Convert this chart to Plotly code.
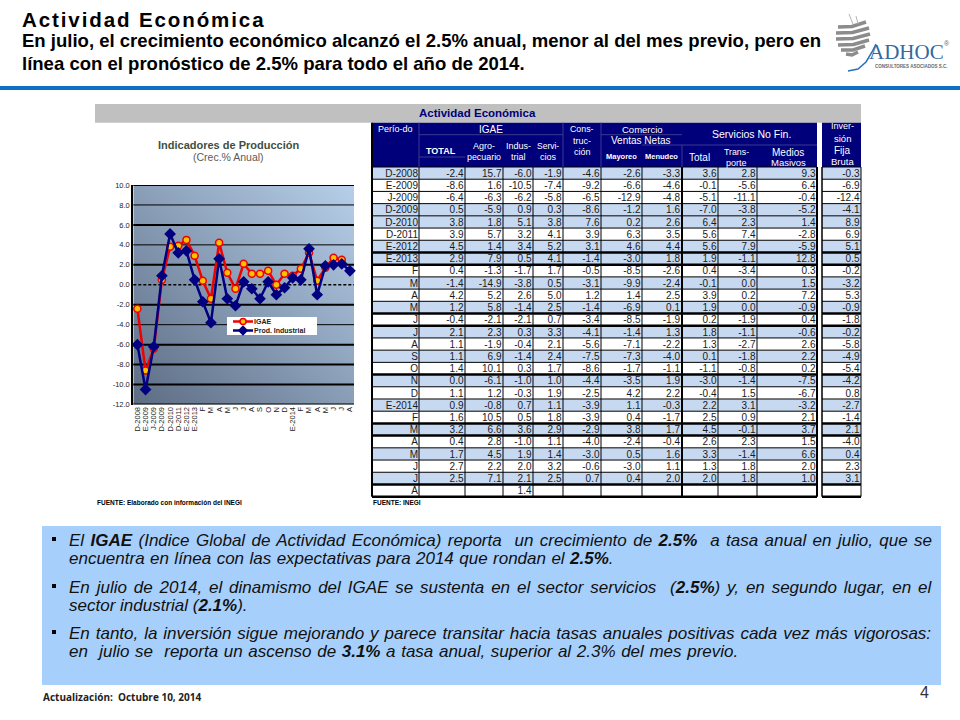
import base64, json
import plotly.graph_objects as go

# ---------- data ----------
PERIODS = ["D-2008","E-2009","J-2009","D-2009","D-2010","D-2011","E-2012","E-2013","F","M","A","M","J","J","A","S","O","N","D","E-2014","F","M","A","M","J","J","A"]
IGAE_TOTAL = [-2.4,-8.6,-6.4,0.5,3.8,3.9,4.5,2.9,0.4,-1.4,4.2,1.2,-0.4,2.1,1.1,1.1,1.4,0.0,1.1,0.9,1.6,3.2,0.4,1.7,2.7,2.5,None]
AGRO = [15.7,1.6,-6.3,-5.9,1.8,5.7,1.4,7.9,-1.3,-14.9,5.2,5.8,-2.1,2.3,-1.9,6.9,10.1,-6.1,1.2,-0.8,10.5,6.6,2.8,4.5,2.2,7.1,None]
INDUS = [-6.0,-10.5,-6.2,0.9,5.1,3.2,3.4,0.5,-1.7,-3.8,2.6,-1.4,-2.1,0.3,-0.4,-1.4,0.3,-1.0,-0.3,0.7,0.5,3.6,-1.0,1.9,2.0,2.1,1.4]
SERV = [-1.9,-7.4,-5.8,0.3,3.8,4.1,5.2,4.1,1.7,0.5,5.0,2.5,0.7,3.3,2.1,2.4,1.7,1.0,1.9,1.1,1.8,2.9,1.1,1.4,3.2,2.5,None]
CONSTR = [-4.6,-9.2,-6.5,-8.6,7.6,3.9,3.1,-1.4,-0.5,-3.1,1.2,-1.4,-3.4,-4.1,-5.6,-7.5,-8.6,-4.4,-2.5,-3.9,-3.9,-2.9,-4.0,-3.0,-0.6,0.7,None]
MAYOREO = [-2.6,-6.6,-12.9,-1.2,0.2,6.3,4.6,-3.0,-8.5,-9.9,1.4,-6.9,-8.5,-1.4,-7.1,-7.3,-1.7,-3.5,4.2,1.1,0.4,3.8,-2.4,0.5,-3.0,0.4,None]
MENUDEO = [-3.3,-4.6,-4.8,1.6,2.6,3.5,4.4,1.8,-2.6,-2.4,2.5,0.1,-1.9,1.3,-2.2,-4.0,-1.1,1.9,2.2,-0.3,-1.7,1.7,-0.4,1.6,1.1,2.0,None]
SVC_TOTAL = [3.6,-0.1,-5.1,-7.0,6.4,5.6,5.6,1.9,0.4,-0.1,3.9,1.9,0.2,1.8,1.3,0.1,-1.1,-3.0,-0.4,2.2,2.5,4.5,2.6,3.3,1.3,2.0,None]
TRANSPORTE = [2.8,-5.6,-11.1,-3.8,2.3,7.4,7.9,-1.1,-3.4,0.0,0.2,0.0,-1.9,-1.1,-2.7,-1.8,-0.8,-1.4,1.5,3.1,0.9,-0.1,2.3,-1.4,1.8,1.8,None]
MEDIOS = [9.3,6.4,-0.4,-5.2,1.4,-2.8,-5.9,12.8,0.3,1.5,7.2,-0.9,0.4,-0.6,2.6,2.2,0.2,-7.5,-6.7,-3.2,2.1,3.7,1.5,6.6,2.0,1.0,None]
INVERSION = [-0.3,-6.9,-12.4,-4.1,8.9,6.9,5.1,0.5,-0.2,-3.2,5.3,-0.9,-1.8,-0.2,-5.8,-4.9,-5.4,-4.2,0.8,-2.7,-1.4,2.1,-4.0,0.4,2.3,3.1,None]
YTICKS = [10,8,6,4,2,0,-2,-4,-6,-8,-10,-12]
GRID_THIN = [8,4,-4]
GRID_THICK = [10,6,2,-2,-6,-8,-10,-12]
ROW_BLUE = [1,0,0,1,1,0,1,1,0,1,0,1,0,1,0,1,0,1,0,1,0,1,0,1,0,1,0]
THICK_BOUNDS = [7,8,12,13,17,21,22,26,27]

# ---------- layout constants (pixels) ----------
W, H = 960, 720
COLS = [372,419,465,503,533,563,601,642,682,718,757,817]
TOP, ROW_H = 167.0, 12.21
NAVY = "#00007a"
FONT = "Liberation Sans"

def fx(p): return p / W
def fy(p): return 1 - p / H

shapes, annos = [], []

def rect(x0, y0, x1, y1, color):
    shapes.append(dict(type="rect", xref="paper", yref="paper", x0=fx(x0), x1=fx(x1), y0=fy(y0), y1=fy(y1),
                       fillcolor=color, line_width=0, layer="below"))

def line(x0, y0, x1, y1, color="#000000", width=1, dash=None):
    shapes.append(dict(type="line", xref="paper", yref="paper", x0=fx(x0), x1=fx(x1), y0=fy(y0), y1=fy(y1),
                       line=dict(color=color, width=width, dash=dash or "solid"), layer="below"))

def path(pts, color, width):
    d = "M" + " L".join(f"{fx(a):.5f},{fy(b):.5f}" for a, b in pts)
    shapes.append(dict(type="path", xref="paper", yref="paper", path=d, line=dict(color=color, width=width), layer="below"))

def text(x, y, s, size, color="#000000", anchor="left", family=FONT):
    annos.append(dict(xref="paper", yref="paper", x=fx(x), y=fy(y), text=s, showarrow=False, xanchor=anchor, yanchor="middle",
                      font=dict(size=size, color=color, family=family), align=anchor, borderpad=0, borderwidth=0))

# ---------- slide frame ----------
rect(0, 86, 960, 90, "#0f6fc0")
text(22, 19, "<b>Actividad Económica</b>", 20.5)
text(22, 40, "<b>En julio, el crecimiento económico alcanzó el 2.5% anual, menor al del mes previo, pero en</b>", 18.55)
text(22, 63, "<b>línea con el pronóstico de 2.5% para todo el año de 2014.</b>", 18.55)

# logo
for (x0, y0, x1, y1) in [(838,27,866,22),(836,33,869,28),(836,39,870,34),(838,45,869,40),(841,50,865,46),(846,54,858,52)]:
    path([(x0,y0),((x0+x1)/2,(y0+y1)/2+2),(x1,y1)], "#8c8c8c", 3.5)
path([(848,71),(858,69),(866,62),(872,52),(876,44)], "#2a6fb5", 1.5)
path([(849,14),(853,24)], "#b5b5b5", 1)
path([(856,16),(858,24)], "#b5b5b5", 1)
text(869, 52, "ADHOC", 21, "#35689f", family="Liberation Serif")
text(944, 43, "®", 7, "#666666")
text(875, 66, "<b>CONSULTORES ASOCIADOS S.C.</b>", 4.5, "#666666")

# bottom panel
rect(42, 526, 941, 685, "#a7cffb")
BODY = [
    (540, "<i>El <b>IGAE</b> (Indice Global de Actividad Económica) reporta  un crecimiento de <b>2.5%</b>  a tasa anual en julio, que se</i>", 1.7),
    (558, "<i>encuentra en línea con las expectativas para 2014 que rondan el <b>2.5%</b>.</i>", 0.7),
    (587, "<i>En julio de 2014, el dinamismo del IGAE se sustenta en el sector servicios  (<b>2.5%</b>) y, en segundo lugar, en el</i>", 2.15),
    (605, "<i>sector industrial (<b>2.1%</b>).</i>", 0),
    (633, "<i>En tanto, la inversión sigue mejorando y parece transitar hacia tasas anuales positivas cada vez más vigorosas:</i>", 1.2),
    (651, "<i>en  julio se  reporta un ascenso de <b>3.1%</b> a tasa anual, superior al 2.3% del mes previo.</i>", 0.9),
]
for y, s, _ in BODY:
    text(69, y, s, 17, "#111111")
for y in (539, 586, 632):
    rect(52, y-2, 56, y+2, "#000000")
text(43, 697, "<b>Actualización:  Octubre 10, 2014</b>", 10, "#222222", family="Open Sans")
text(924, 692, "4", 16, "#333333", "center")

# ---------- table frame ----------
rect(95, 104, 861, 122.7, "#c0c0c0")
text(477, 113, "<b>Actividad Económica</b>", 11.5, NAVY, "center")
rect(372, 122.7, 817, TOP, NAVY)
rect(822, 122.7, 861, TOP, NAVY)
n = len(PERIODS)
for i, blue in enumerate(ROW_BLUE):
    if blue:
        y0, y1 = TOP + i*ROW_H, TOP + (i+1)*ROW_H
        rect(372, y0, 817, y1, "#c6d9f1")
        rect(822, y0, 861, y1, "#c6d9f1")
BOTTOM = TOP + n*ROW_H
for b in range(n+1):
    y = TOP + b*ROW_H
    w = 2.5 if b in THICK_BOUNDS else 1
    line(372, y, 817, y, width=w)
    line(822, y, 861, y, width=w)
for x in COLS:
    line(x, TOP, x, BOTTOM, width=2 if x in (372,682,817) else 1)
line(822, TOP, 822, BOTTOM, width=1.5)
line(861, TOP, 861, BOTTOM, width=1)
line(372, 122.7, 372, TOP, width=2)

# header inner rules
HL = "#3a3a90"
line(419, 134.7, 563, 134.7, HL)
line(419, 157, 465, 157, HL)
line(601, 134.7, 682, 134.7, HL)
line(642, 145, 817, 145, HL)
line(419, 122.7, 419, TOP, HL)
line(563, 122.7, 563, TOP, HL)
line(601, 122.7, 601, TOP, HL)
line(682, 145, 682, TOP, HL)

HEAD = [(395,129,"Perío-do",9),(491,129,"IGAE",10),(484,146,"Agro-",9),(484,157,"pecuario",8.9),(518,146,"Indus-",9),(518,157,"trial",9),
        (548,146,"Servi-",8.5),(548,157,"cios",9),(582,129,"Cons-",8.8),(582,141,"truc-",9),(582,152,"ción",9),(642,129,"Comercio",9.5),
        (640,141,"Ventas Netas",10),(751,134,"Servicios No Fin.",10.5),(699,157,"Total",10),(736,152,"Trans-",8.8),(736,163,"porte",9),
        (788,152,"Medios",10),(788,163,"Masivos",9.5),(842,126,"Inver-",9),(842,138,"sión",9.5),(842,150,"Fija",10),(842,161,"Bruta",9.5)]
for x, y, s, fs in HEAD:
    text(x, y, s, fs, "#ffffff", "center")
text(441, 151, "<b>TOTAL</b>", 9, "#ffffff", "center")
text(621, 156, "<b>Mayoreo</b>", 7.5, "#ffffff", "center")
text(661, 156, "<b>Menudeo</b>", 7.5, "#ffffff", "center")
text(97, 502, "<b>FUENTE: Elaborado con información del INEGI</b>", 6.5)
text(373, 502, "<b>FUENTE: INEGI</b>", 6.5)

# ---------- chart texts ----------
text(228, 145, "<b>Indicadores de Producción</b>", 11, "#3f4f3f", "center")
text(228, 157, "(Crec.% Anual)", 10.5, "#5a5a5a", "center")

# chart plot region
PX0, PX1, PY0, PY1 = 133.3, 354.0, 185.0, 404.5
svg = ('<svg xmlns="http://www.w3.org/2000/svg" width="300" height="300" preserveAspectRatio="none"><defs>'
       '<linearGradient id="g" x1="0" y1="1" x2="1" y2="0"><stop offset="0" stop-color="#5c6c83"/>'
       '<stop offset="1" stop-color="#b7cfea"/></linearGradient></defs><rect width="300" height="300" fill="url(#g)"/></svg>')
src = "data:image/svg+xml;base64," + base64.b64encode(svg.encode()).decode()
images = [dict(source=src, xref="paper", yref="paper", x=fx(PX0), y=fy(PY0), sizex=(PX1-PX0)/W, sizey=(PY1-PY0)/H,
               sizing="stretch", xanchor="left", yanchor="top", layer="below")]
for v in GRID_THIN:
    shapes.append(dict(type="line", xref="x domain", yref="y", x0=0, x1=1, y0=v, y1=v, line=dict(color="#000000", width=1), layer="below"))
for v in GRID_THICK:
    shapes.append(dict(type="line", xref="x domain", yref="y", x0=0, x1=1, y0=v, y1=v, line=dict(color="#000000", width=2), layer="below"))
shapes.append(dict(type="line", xref="x domain", yref="y", x0=0, x1=1, y0=0, y1=0, line=dict(color="#000000", width=1.5, dash="3px,2px"), layer="below"))

# legend box drawn by hand (plotly's minimum row height is too tall for this small key)
rect(227, 317, 317, 335, "#ffffff")
text(254, 321.5, "<b>IGAE</b>", 7, "#222222")
text(254, 330.5, "<b>Prod. Industrial</b>", 7, "#222222")

fig = go.Figure()
xs = list(range(n))
IGAE_STYLE = dict(line=dict(color="#f00000", width=2.5), marker=dict(symbol="circle", size=7, color="#ffc000", line=dict(color="#f00000", width=1.5)))
PROD_STYLE = dict(line=dict(color="#000080", width=2.5), marker=dict(symbol="diamond", size=9, color="#000080"))
fig.add_trace(go.Scatter(x=xs, y=IGAE_TOTAL, name="IGAE", mode="lines+markers", cliponaxis=False, showlegend=False, **IGAE_STYLE))
fig.add_trace(go.Scatter(x=xs, y=INDUS, name="Prod. Industrial", mode="lines+markers", cliponaxis=False, showlegend=False, **PROD_STYLE))

# legend keys on the page-sized axis pair
for yk, st in ((321.5, IGAE_STYLE), (330.5, PROD_STYLE)):
    fig.add_trace(go.Scatter(x=[233, 243, 253], y=[yk]*3, mode="lines", line=st["line"], xaxis="x2", yaxis="y2",
                             showlegend=False, hoverinfo="skip", cliponaxis=False))
    mk = dict(st["marker"]); mk["size"] = mk["size"] - 1
    fig.add_trace(go.Scatter(x=[243], y=[yk], mode="markers", marker=mk, xaxis="x2", yaxis="y2",
                             showlegend=False, hoverinfo="skip", cliponaxis=False))

# table body through a page-sized overlay axis pair
rows_y = [TOP + (i+0.5)*ROW_H + 1.2 for i in range(n)]
def fmt(vals):
    return ["" if v is None else f"{v:.1f}" for v in vals]
columns = [(418, PERIODS), (463.5, fmt(IGAE_TOTAL)), (501.5, fmt(AGRO)), (531.5, fmt(INDUS)), (561.5, fmt(SERV)),
           (599.5, fmt(CONSTR)), (640.5, fmt(MAYOREO)), (680, fmt(MENUDEO)), (716.5, fmt(SVC_TOTAL)),
           (755.5, fmt(TRANSPORTE)), (815.5, fmt(MEDIOS)), (859.5, fmt(INVERSION))]
for xr, labels in columns:
    fig.add_trace(go.Scatter(x=[xr]*n, y=rows_y, text=labels, mode="text", textposition="middle left", xaxis="x2", yaxis="y2",
                             textfont=dict(size=10, color="#1a1a1a", family=FONT), showlegend=False, hoverinfo="skip", cliponaxis=False))

fig.update_layout(
    width=W, height=H, margin=dict(l=0, r=0, t=0, b=0, autoexpand=False), autosize=False,
    paper_bgcolor="#ffffff", plot_bgcolor="rgba(0,0,0,0)", shapes=shapes, annotations=annos, images=images,
    font=dict(family=FONT, color="#000000"), showlegend=False,
    xaxis=dict(domain=[fx(PX0), fx(PX1)], range=[-0.5, n-0.5], tickmode="array", tickvals=xs, ticktext=PERIODS, tickangle=-90, automargin=False,
               tickfont=dict(size=7.5, color="#222222"), showgrid=False, zeroline=False, showline=False, ticks="", ticklen=2),
    yaxis=dict(domain=[fy(PY1), fy(PY0)], range=[-12, 10], tickmode="array", tickvals=YTICKS, ticktext=[f"{v:.1f}" for v in YTICKS], automargin=False,
               tickfont=dict(size=7.5, color="#222222"), showgrid=False, zeroline=False, showline=True, linecolor="#000000", linewidth=2, ticks="", ticklen=2),
    xaxis2=dict(domain=[0, 1], range=[0, W], visible=False, anchor="y2", automargin=False),
    yaxis2=dict(domain=[0, 1], range=[H, 0], visible=False, anchor="x2", automargin=False),
)

# page margin off; word and letter spacing are styling SVG text has but plotly does not expose
post = """
document.body.style.margin='0';
var sp=%s;
document.querySelectorAll('.annotation-text').forEach(function(t){
  var s=t.textContent;
  if(s.indexOf('Actividad Económica')===0 && parseFloat(t.style.fontSize)>15){t.style.letterSpacing='1.9px';}
  sp.forEach(function(p){ if(s.indexOf(p[0])===0){t.style.wordSpacing=p[1]+'px';} });
});
""" % json.dumps([["El IGAE", BODY[0][2]], ["encuentra", BODY[1][2]], ["En julio de", BODY[2][2]], ["En tanto", BODY[4][2]], ["en  julio", BODY[5][2]], ["en\u00a0", BODY[5][2]]])
fig.write_html("out.html", post_script=post, config=dict(displayModeBar=False))
